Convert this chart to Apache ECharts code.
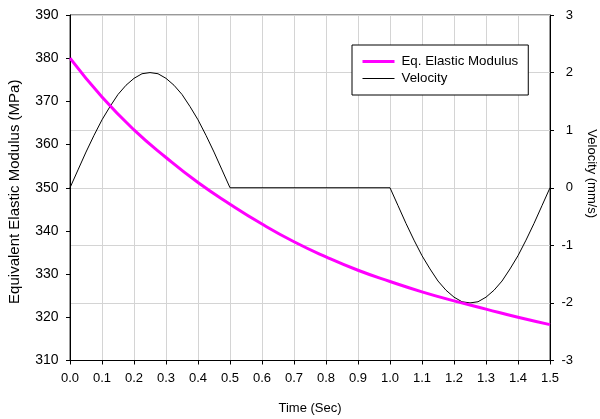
<!DOCTYPE html>
<html>
<head>
<meta charset="utf-8">
<script src="https://cdn.jsdelivr.net/npm/echarts@6/dist/echarts.min.js"></script>
<style>
  html, body { margin: 0; padding: 0; background: #fff; }
  #chart { width: 600px; height: 419px; }
</style>
</head>
<body>
<div id="chart"></div>
<script>
// Equivalent elastic modulus sampled every 0.1 s
const modulusTime = [0.0, 0.1, 0.2, 0.3, 0.4, 0.5, 0.6, 0.7, 0.8, 0.9, 1.0, 1.1, 1.2, 1.3, 1.4, 1.5];
const modulusValues = [380.0, 371.0, 363.4, 357.0, 351.2, 346.2, 341.6, 337.5, 334.0, 330.9, 328.3, 325.9, 323.8, 321.9, 320.0, 318.3];

// Velocity profile: positive half-wave, dwell at zero, negative half-wave
const velocityTime = [
  0.000, 0.025, 0.050, 0.075, 0.100, 0.125, 0.150, 0.175, 0.200, 0.225, 0.250,
  0.275, 0.300, 0.325, 0.350, 0.375, 0.400, 0.425, 0.450, 0.475, 0.500,
  1.000, 1.025, 1.050, 1.075, 1.100, 1.125, 1.150, 1.175, 1.200, 1.225, 1.250,
  1.275, 1.300, 1.325, 1.350, 1.375, 1.400, 1.425, 1.450, 1.475, 1.500
];
const velocityValues = [
  0.00, 0.31, 0.62, 0.91, 1.18, 1.41, 1.62, 1.78, 1.90, 1.98, 2.00,
  1.98, 1.90, 1.78, 1.62, 1.41, 1.18, 0.91, 0.62, 0.31, 0.00,
  0.00, -0.31, -0.62, -0.91, -1.18, -1.41, -1.62, -1.78, -1.90, -1.98, -2.00,
  -1.98, -1.90, -1.78, -1.62, -1.41, -1.18, -0.91, -0.62, -0.31, 0.00
];

const seriesNames = ['Eq. Elastic Modulus', 'Velocity'];
const xTitle = 'Time (Sec)';
const leftTitle = 'Equivalent Elastic Modulus (MPa)';
const rightTitle = 'Velocity (mm/s)';

const FONT = '"Liberation Sans", Arial, sans-serif';
const GRID_COLOR = '#d4d4d4';
const AXIS_COLOR = '#000';
const MODULUS_COLOR = '#ff00ff';

const chart = echarts.init(document.getElementById('chart'), null, { renderer: 'canvas' });

chart.setOption({
  backgroundColor: '#fff',
  animation: false,
  textStyle: { fontFamily: FONT, color: '#000' },
  grid: {
    left: 70, right: 50, top: 15, bottom: 58.5,
    outerBoundsMode: 'none', containLabel: false,
    show: true, borderColor: '#333', borderWidth: 1, backgroundColor: 'transparent'
  },
  legend: {
    orient: 'vertical',
    left: 352, top: 45,
    padding: [10, 10, 10, 9],
    itemWidth: 32, itemHeight: 14, itemGap: 4,
    borderColor: '#000', borderWidth: 1, borderRadius: 0,
    backgroundColor: '#fff',
    // hide the point marker so only the line sample remains
    itemStyle: { opacity: 0, borderWidth: 0 },
    textStyle: { fontFamily: FONT, fontSize: 13.3, color: '#000', padding: [0, 0, 0, 2] },
    data: [
      { name: seriesNames[0], lineStyle: { color: MODULUS_COLOR, width: 3 } },
      { name: seriesNames[1], lineStyle: { color: '#000', width: 1 } }
    ]
  },
  xAxis: {
    type: 'value', min: 0, max: 1.5, interval: 0.1,
    name: xTitle, nameLocation: 'middle', nameGap: 41,
    nameTextStyle: { fontFamily: FONT, fontSize: 13, color: '#000' },
    axisLine: { show: true, onZero: false, lineStyle: { color: AXIS_COLOR, width: 1 } },
    axisTick: { show: true, inside: false, length: 4, lineStyle: { color: AXIS_COLOR } },
    axisLabel: { margin: 11.5, fontFamily: FONT, fontSize: 13, color: '#000',
      formatter: v => v.toFixed(1) },
    splitLine: { show: true, lineStyle: { color: GRID_COLOR, width: 1 } }
  },
  yAxis: [
    {
      type: 'value', min: 310, max: 390, interval: 10, position: 'left',
      name: leftTitle, nameLocation: 'middle', nameGap: 48, nameRotate: 90,
      nameTextStyle: { fontFamily: FONT, fontSize: 15, color: '#000', padding: [0, 8, 0, 0] },
      axisLine: { show: true, onZero: false, lineStyle: { color: AXIS_COLOR, width: 1 } },
      axisTick: { show: true, inside: false, length: 4, lineStyle: { color: AXIS_COLOR } },
      axisLabel: { margin: 11.5, fontFamily: FONT, fontSize: 14, color: '#000' },
      splitLine: { show: false }
    },
    {
      type: 'value', min: -3, max: 3, interval: 1, position: 'right',
      name: rightTitle, nameLocation: 'middle', nameGap: 35, nameRotate: -90,
      nameTextStyle: { fontFamily: FONT, fontSize: 13, color: '#000', padding: [0, 28, 0, 0] },
      axisLine: { show: true, onZero: false, lineStyle: { color: AXIS_COLOR, width: 1 } },
      axisTick: { show: true, inside: false, length: 4, lineStyle: { color: AXIS_COLOR } },
      axisLabel: { margin: 23, align: 'right', fontFamily: FONT, fontSize: 13, color: '#000' },
      splitLine: { show: true, lineStyle: { color: GRID_COLOR, width: 1 } }
    }
  ],
  series: [
    {
      name: seriesNames[0], type: 'line', yAxisIndex: 0,
      data: modulusTime.map((t, i) => [t, modulusValues[i]]),
      symbol: 'none', smooth: true, z: 3,
      lineStyle: { color: MODULUS_COLOR, width: 3 },
      itemStyle: { color: MODULUS_COLOR }
    },
    {
      name: seriesNames[1], type: 'line', yAxisIndex: 1,
      data: velocityTime.map((t, i) => [t, velocityValues[i]]),
      symbol: 'none', smooth: false, z: 2,
      lineStyle: { color: '#000', width: 1 },
      itemStyle: { color: '#000' }
    }
  ]
});
</script>
</body>
</html>
